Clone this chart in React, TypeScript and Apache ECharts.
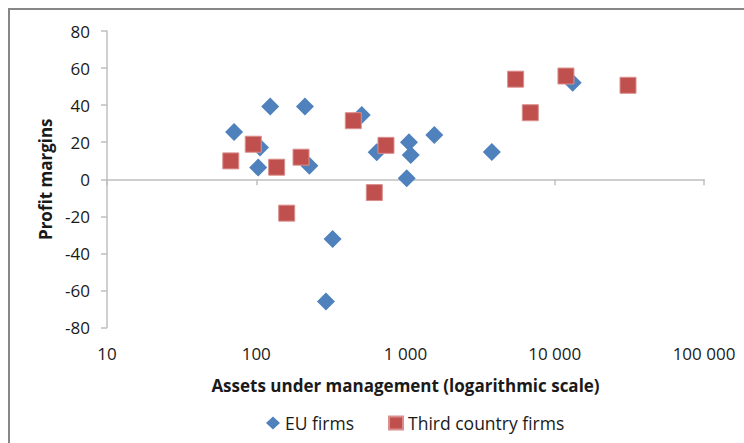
import React, { useEffect, useRef } from "react";
import * as echarts from "echarts";

const euAssets = [71, 106, 103, 124, 212, 227, 325, 293, 509, 641, 1055, 1084, 1019, 1560, 3787, 13183];
const euMargins = [25.5, 17.2, 6.3, 39.2, 39.2, 7.3, -32.2, -66, 34.7, 14.6, 20, 13.1, 0.5, 23.9, 14.7, 52.1];

const tcAssets = [67.5, 95.5, 137, 160, 199.5, 447, 618, 740, 5470, 6860, 11885, 30970];
const tcMargins = [9.9, 18.9, 6.5, -18.3, 11.9, 31.6, -7.2, 18.3, 54, 35.9, 55.7, 50.7];

const seriesNames = ["EU firms", "Third country firms"];
const xAxisTitle = "Assets under management (logarithmic scale)";
const yAxisTitle = "Profit margins";

const FONT = "Open Sans";
const TXT = "#1a1a1a";

function fmt(v: number): string {
  return String(Math.round(v)).replace(/\B(?=(\d{3})+(?!\d))/g, " ");
}

export default function App() {
  const ref = useRef<HTMLDivElement>(null);
  useEffect(() => {
    if (!ref.current) return;
    const chart = echarts.init(ref.current, null, { renderer: "svg" });
    const eu = euAssets.map((a, i) => [a, euMargins[i]]);
    const tc = tcAssets.map((a, i) => [a, tcMargins[i]]);
    chart.setOption({
      animation: false,
      textStyle: { fontFamily: FONT },
      grid: { left: 107, right: 40, top: 31, bottom: 115.5, containLabel: false },
      graphic: [
        {
          type: "rect",
          shape: { x: 9, y: 9, width: 900, height: 600 },
          style: { fill: "none", stroke: "#878787", lineWidth: 2 },
          silent: true,
        },
      ],
      xAxis: [
        {
          type: "log",
          logBase: 10,
          min: 10,
          max: 100000,
          axisLine: { show: true, onZero: true, lineStyle: { color: "#bfbfbf", width: 1.5 } },
          axisTick: { show: true, length: 6, lineStyle: { color: "#bfbfbf", width: 1.5 } },
          axisLabel: { show: false },
          splitLine: { show: false },
          minorTick: { show: false },
        },
        {
          type: "log",
          logBase: 10,
          min: 10,
          max: 100000,
          position: "bottom",
          axisLine: { show: false, onZero: false },
          axisTick: { show: false },
          axisLabel: {
            show: true,
            margin: 17,
            formatter: (v: number) => fmt(v),
            color: TXT,
            fontSize: 17,
            fontFamily: FONT,
          },
          splitLine: { show: false },
          name: xAxisTitle,
          nameLocation: "middle",
          nameGap: 49,
          nameTextStyle: { fontSize: 17, fontWeight: "bold", color: TXT, fontFamily: FONT },
        },
      ],
      yAxis: {
        type: "value",
        min: -80,
        max: 80,
        interval: 20,
        axisLine: { show: true, lineStyle: { color: "#bfbfbf", width: 1.5 } },
        axisTick: { show: true, length: 6, lineStyle: { color: "#bfbfbf", width: 1.5 } },
        axisLabel: { margin: 17, color: TXT, fontSize: 17, fontFamily: FONT },
        splitLine: { show: false },
        name: yAxisTitle,
        nameLocation: "middle",
        nameGap: 53,
        nameTextStyle: { fontSize: 17, fontWeight: "bold", color: TXT, fontFamily: FONT },
      },
      legend: {
        left: 261,
        top: 409,
        itemGap: 34,
        itemWidth: 14,
        itemHeight: 13,
        textStyle: { fontSize: 17.5, color: TXT, fontFamily: FONT },
        data: [
          { name: seriesNames[0], icon: "diamond" },
          { name: seriesNames[1], icon: "rect" },
        ],
      },
      series: [
        {
          name: seriesNames[0],
          type: "scatter",
          xAxisIndex: 0,
          symbol: "diamond",
          symbolSize: 18,
          itemStyle: { color: "#4f81bd", opacity: 1 },
          data: eu,
        },
        {
          name: seriesNames[1],
          type: "scatter",
          xAxisIndex: 0,
          symbol: "rect",
          symbolSize: 16,
          itemStyle: { color: "#c0504d", borderColor: "#d98f8d", borderWidth: 1, opacity: 1 },
          data: tc,
        },
      ],
    });
    return () => chart.dispose();
  }, []);
  return (
    <div
      ref={ref}
      style={{ position: "absolute", left: 0, top: 0, width: 744, height: 443, background: "#fff" }}
    />
  );
}
